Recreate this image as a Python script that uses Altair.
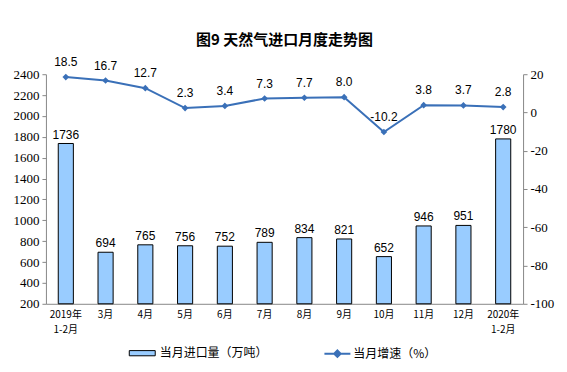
import altair as alt
import pandas as pd

categories = ["2019年\n1-2月", "3月", "4月", "5月", "6月", "7月", "8月", "9月", "10月", "11月", "12月", "2020年\n1-2月"]
imports = [1736, 694, 765, 756, 752, 789, 834, 821, 652, 946, 951, 1780]
growth = [18.5, 16.7, 12.7, 2.3, 3.4, 7.3, 7.7, 8.0, -10.2, 3.8, 3.7, 2.8]
left_ticks = list(range(200, 2401, 200))
right_ticks = list(range(-100, 21, 20))
bar_name = "当月进口量（万吨）"
line_name = "当月增速（%）"

df = pd.DataFrame({"cat": categories, "imports": imports, "growth": growth,
                   "growth_lbl": [f"{v:.1f}" for v in growth],
                   "bar_s": bar_name, "line_s": line_name})

BAR = "#99CCFF"
LINE = "#3A70B8"
CJK = "Noto Sans CJK SC"
SERIF = "Liberation Serif, DejaVu Serif, serif"

x = alt.X("cat:N", sort=None, title=None,
          scale=alt.Scale(paddingInner=0.62, paddingOuter=0.31),
          axis=alt.Axis(labelAngle=0, labelExpr="split(datum.label, '\\n')",
                        labelFont=CJK, labelFontSize=10, labelColor="black",
                        labelPadding=6, labelLineHeight=15, ticks=False,
                        domainColor="#888888"))

yl_scale = alt.Scale(domain=[200, 2400], zero=False, nice=False)
yr_scale = alt.Scale(domain=[-100, 20], zero=False, nice=False)

bars = alt.Chart(df).mark_bar(stroke="black", strokeWidth=1).encode(
    x=x,
    y=alt.Y("imports:Q", scale=yl_scale, title=None,
            axis=alt.Axis(values=left_ticks, grid=False, labelFont=SERIF,
                          labelExpr="datum.value + ''",
                          labelFontSize=13, labelColor="black", tickSize=4,
                          tickColor="#888888", domainColor="#888888", labelPadding=3)),
    y2=alt.datum(200),
    fill=alt.Fill("bar_s:N", scale=alt.Scale(domain=[bar_name], range=[BAR]), title=None,
                  legend=alt.Legend(orient="none", legendX=83, legendY=266,
                                    symbolType="M-1,-0.2L1,-0.2L1,0.2L-1,0.2Z",
                                    symbolSize=676, symbolStrokeColor="black",
                                    symbolStrokeWidth=1, labelFont=CJK, labelFontSize=12,
                                    labelColor="black", labelOffset=4)),
)

bar_text = alt.Chart(df).mark_text(dy=-9, font="Liberation Sans", fontSize=12, color="black").encode(
    x=alt.X("cat:N", sort=None),
    y=alt.Y("imports:Q", scale=yl_scale, axis=None),
    text=alt.Text("imports:Q"),
)

line = alt.Chart(df).mark_line(strokeWidth=2).encode(
    x=alt.X("cat:N", sort=None),
    y=alt.Y("growth:Q", scale=yr_scale, title=None,
            axis=alt.Axis(orient="right", values=right_ticks, grid=False,
                          labelExpr="datum.value + ''",
                          labelFont=SERIF, labelFontSize=13, labelColor="black",
                          tickSize=4, tickColor="#888888", domainColor="#888888", labelPadding=3)),
    stroke=alt.Stroke("line_s:N", scale=alt.Scale(domain=[line_name], range=[LINE]), title=None,
                      legend=alt.Legend(orient="none", legendX=278, legendY=266,
                                        symbolType="M-1,0L1,0M0,-0.25L0.25,0L0,0.25L-0.25,0Z",
                                        symbolSize=676, symbolStrokeWidth=2,
                                        symbolFillColor=LINE,
                                        labelFont=CJK, labelFontSize=12,
                                        labelColor="black", labelOffset=2)),
)

points = alt.Chart(df).mark_point(shape="diamond", filled=True, size=45, color=LINE, opacity=1).encode(
    x=alt.X("cat:N", sort=None),
    y=alt.Y("growth:Q", scale=yr_scale, axis=None),
)

line_text = alt.Chart(df).mark_text(dy=-15, font="Liberation Sans", fontSize=12, color="black").encode(
    x=alt.X("cat:N", sort=None),
    y=alt.Y("growth:Q", scale=yr_scale, axis=None),
    text=alt.Text("growth_lbl:N"),
)

chart = alt.layer(bars, bar_text, line, points, line_text).resolve_scale(
    y="independent"
).properties(
    width=478, height=230,
    title=alt.TitleParams("图9  天然气进口月度走势图", font=CJK, fontSize=15,
                          fontWeight="bold", color="black", anchor="middle", offset=8),
    padding={"left": 5, "top": 24, "right": 5, "bottom": 5},
).configure_view(stroke=None)

chart.save("out.html", embed_options={"renderer": "svg", "actions": False})
